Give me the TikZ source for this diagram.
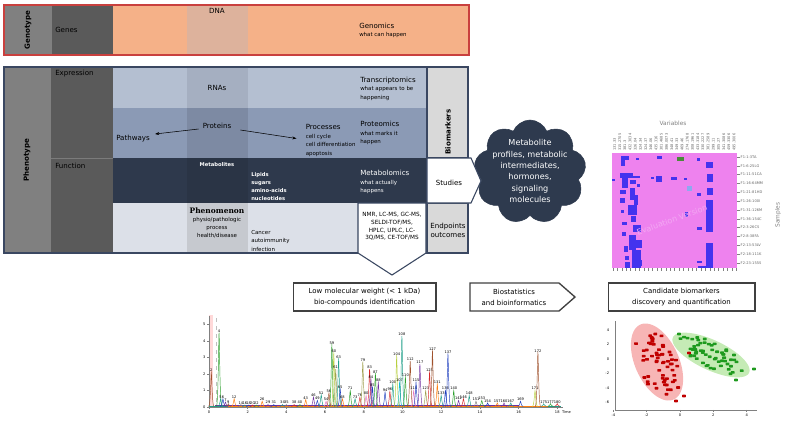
\documentclass[tikz,border=0pt]{standalone}
\usepackage{fontspec}
\setmainfont{DejaVu Sans}
\newfontfamily\serifb{DejaVu Serif}
\usetikzlibrary{shapes.symbols,arrows.meta,calc}
\definecolor{salmon}{HTML}{F5B188}
\definecolor{dnacol}{HTML}{DDB29C}
\definecolor{gA}{HTML}{808080}
\definecolor{gB}{HTML}{5A5A5A}
\definecolor{redb}{HTML}{C9403E}
\definecolor{rA}{HTML}{B4BFD1}
\definecolor{rAm}{HTML}{A5AFC1}
\definecolor{rB}{HTML}{8B9AB5}
\definecolor{rBm}{HTML}{7D8AA3}
\definecolor{rC}{HTML}{2E394C}
\definecolor{rCm}{HTML}{2A3445}
\definecolor{rD}{HTML}{DCE0E8}
\definecolor{rDm}{HTML}{C6C9CF}
\definecolor{navyb}{HTML}{3A4761}
\definecolor{bmc}{HTML}{D9D9D9}
\definecolor{cloudc}{HTML}{2E3A4E}
\definecolor{boxc}{HTML}{404040}
\definecolor{hmpink}{HTML}{EE82EE}
\definecolor{hmblue}{HTML}{4433EE}
\definecolor{hmgreen}{HTML}{4A8A3A}
\definecolor{hmlight}{HTML}{8FA8F0}
\definecolor{dotred}{HTML}{C00000}
\definecolor{dotgreen}{HTML}{1E9A1E}
\definecolor{ellred}{HTML}{F7B5B5}
\definecolor{ellgreen}{HTML}{C5EBB5}
\definecolor{cgr}{HTML}{2CA02C}
\definecolor{cyg}{HTML}{B8D040}
\definecolor{ctl}{HTML}{1F9E89}
\definecolor{col}{HTML}{A0A050}
\definecolor{crd}{HTML}{D62728}
\definecolor{cpu}{HTML}{7030A0}
\definecolor{cbl}{HTML}{1F3FBF}
\definecolor{cbr}{HTML}{A0522D}
\definecolor{cpk}{HTML}{E377C2}
\definecolor{cor}{HTML}{FF7F0E}
\definecolor{ccy}{HTML}{17BECF}
\definecolor{cgy}{HTML}{7F7F7F}
\newcommand\fA{\fontsize{5.3}{6.4}\selectfont}
\newcommand\fB{\fontsize{4.1}{6.4}\selectfont}
\newcommand\fC{\fontsize{3.9}{5.9}\selectfont\bfseries}
\newcommand\fD{\fontsize{6.1}{8.5}\selectfont}
\newcommand\fE{\fontsize{5.2}{8.2}\selectfont}
\newcommand\fN{\fontsize{4.3}{5.8}\selectfont}
\newcommand\fH{\fontsize{2.7}{3}\selectfont}
\newcommand\fT{\fontsize{2.7}{3}\selectfont}
\newcommand\fP{\fontsize{4.1}{5.8}\selectfont}
\begin{document}
\begin{tikzpicture}[x=0.75pt,y=-0.75pt,
  txt/.style={inner sep=0pt,align=left,anchor=north west},
  ctxt/.style={inner sep=0pt,align=center},
  box/.style={draw=boxc,line width=1pt,fill=white,minimum height=21pt,align=center,font=\fE,inner sep=0pt},
  thinarrow/.style={-{Stealth[length=3.2pt,width=2.2pt]},line width=0.4pt},
  hmlab/.style={font=\fH,text=gray!80!black,inner sep=0.3pt},
  dot/.style={rounded corners=0.4pt}]
\useasboundingbox (0,0) rectangle (787,426);

% ---------------- Genotype ----------------
\fill[salmon] (113,5) rectangle (469,55);
\fill[dnacol] (187,5) rectangle (248,55);
\fill[gA] (4,5) rectangle (52,55);
\fill[gB] (52,5) rectangle (113,55);
\draw[redb,line width=1.1pt] (4,5) rectangle (469,55);
\node[rotate=90,font=\fA\bfseries,inner sep=0pt] (genotype) at (28,30) {Genotype};
\node[anchor=west,font=\fA,inner sep=0pt] (genes) at (55,30) {Genes};
\node[font=\fA,inner sep=0pt] (dna) at (217,11) {DNA};
\node[txt,font=\fB] (genomics) at (359,22.5) {{\fA Genomics}\\what can happen};

% ---------------- Phenotype ----------------
\fill[rA] (113,67) rectangle (427,108); \fill[rAm] (187,67) rectangle (248,108);
\fill[rB] (113,108) rectangle (427,158); \fill[rBm] (187,108) rectangle (248,158);
\fill[rC] (113,158) rectangle (427,203); \fill[rCm] (187,158) rectangle (248,203);
\fill[rD] (113,203) rectangle (427,253); \fill[rDm] (187,203) rectangle (248,253);
\fill[gA] (4,67) rectangle (51,253);
\fill[gB] (51,67) rectangle (113,253);
\draw[gB!80!white,line width=0.4pt] (51,158) -- (113,158);
\fill[bmc] (427,67) rectangle (468,158);
\fill[bmc] (427,203) rectangle (468,253);
\draw[navyb,line width=1.1pt] (4,67) rectangle (468,253);
\draw[navyb,line width=0.8pt] (427,67) -- (427,253) (427,158) -- (468,158) (427,203) -- (468,203);

% NMR down arrow
\draw[fill=white,draw=navyb,line width=0.8pt] (358,203) -- (426,203) -- (426,253) -- (392,275) -- (358,253) -- cycle;
\node[ctxt,font=\fN] (nmr) at (392,226.5) {NMR, LC-MS, GC-MS,\\SELDI-TOF/MS,\\HPLC, UPLC, LC-\\3Q/MS, CE-TOF/MS};

% Cloud
\node[cloud,cloud puffs=9,cloud puff arc=135,aspect=1.1,fill=cloudc,draw=cloudc,minimum width=84pt,minimum height=78pt,inner sep=0pt] (cloud) at (530,172) {};
% Studies arrow
\draw[fill=white,draw=navyb,line width=0.8pt] (427,158) -- (471,158) -- (481,181) -- (471,203) -- (427,203) -- cycle;
\node[ctxt,font=\fD,text=white] (cloudtext) at (530,171) {Metabolite\\profiles, metabolic\\intermediates,\\hormones,\\signaling\\molecules};

% Texts
\node[rotate=90,font=\fA\bfseries,inner sep=0pt] (phenotype) at (27,160) {Phenotype};
\node[txt,font=\fA] (expression) at (55,69.5) {Expression};
\node[txt,font=\fA] (function) at (55,163) {Function};
\node[font=\fA,inner sep=0pt] (rnas) at (217,88) {RNAs};
\node[txt,font=\fB] (transcr) at (360,76.5) {{\fA Transcriptomics}\\what appears to be\\happening};
\node[font=\fA,inner sep=0pt] (proteins) at (217,126) {Proteins};
\node[anchor=west,font=\fA,inner sep=0pt] (pathways) at (116,139) {Pathways};
\node[txt,font=\fB] (processes) at (305.5,124.5) {{\fA Processes}\\cell cycle\\cell differentiation\\apoptosis};
\node[txt,font=\fB] (proteomics) at (360,121) {{\fA Proteomics}\\what marks it\\happen};
\node[font=\fC,text=white,inner sep=0pt] (metabolites) at (217,165) {Metabolites};
\node[txt,font=\fC,text=white] (lipids) at (251,172.5) {Lipids\\sugars\\amino-acids\\nucleotides};
\node[txt,font=\fB,text=white] (metabolomics) at (360,170) {{\fA Metabolomics}\\what actually\\happens};
\node[ctxt,font=\fP] (phenomenon) at (217,223) {{\serifb\bfseries\fontsize{5.6}{5.8}\selectfont Phenomenon}\\physio/pathologic\\process\\health/disease};
\node[txt,font=\fB] (cancer) at (251,230) {Cancer\\autoimmunity\\infection};
\node[rotate=90,font=\fA\bfseries,inner sep=0pt] (biomarkers) at (448,132) {Biomarkers};
\node[font=\fA,inner sep=0pt] (studies) at (449,183) {Studies};
\node[ctxt,font=\fontsize{5.3}{6.7}\selectfont] (endpoints) at (448,230.5) {Endpoints\\outcomes};

\draw[thinarrow] ($(proteins.west)+(-4,3)$) -- ($(pathways.east)+(5,-5)$);
\draw[thinarrow] ($(proteins.east)+(9,4)$) -- ($(processes.north west)+(-9,14)$);

% ---------------- Bottom boxes ----------------
\node[box,minimum width=107pt] (lmw) at (364.5,297) {Low molecular weight (< 1 kDa)\\bio-compounds identification};
\draw[draw=boxc,line width=1pt,fill=white] (470,283) -- (559,283) -- (575,297) -- (559,311) -- (470,311) -- cycle;
\node[ctxt,font=\fE] (biostat) at (514,297) {Biostatistics\\and bioinformatics};
\node[box,minimum width=110pt] (cand) at (681.5,297) {Candidate biomarkers\\discovery and quantification};

% ---------------- Heatmap ----------------
\fill[hmpink] (612,153) rectangle (737,268);
\foreach \a/\b/\c/\d in {621/156/629/160, 621/160/625/166, 636/158/639/160, 657/156/662/159, 697/158/700/161,
  706/162/713/168, 707/174/713/182, 707/188/713/195, 706/200/713/232, 706/243/713/268,
  612/179/615/181, 620/173/633/178, 622/178/628/188, 630/180/636/184, 633/176/640/178, 637/184/640/187,
  620/190/626/194, 630/188/635/200, 634/195/638/205, 620/198/625/203, 628/205/637/215, 621/210/624/213,
  622/222/627/225, 631/216/636/222, 633/225/641/232, 622/232/626/236, 629/235/636/250, 624/246/628/252,
  633/240/642/248, 625/256/629/260, 632/250/641/268, 625/262/630/268, 636/260/642/266,
  651/177/654/179, 656/176/662/182, 671/177/677/180, 684/178/687/180, 685/212/688/217,
  697/193/701/196, 697/227/702/230, 697/261/702/263, 698/266/706/268}
  \fill[hmblue] (\a,\b) rectangle (\c,\d);
\fill[hmgreen] (677,157) rectangle (684,161);
\fill[hmlight] (687,186) rectangle (692,191);
\node[rotate=20,font=\fontsize{6}{6}\selectfont,text=hmpink!70!white,inner sep=0pt] (watermark) at (672,220) {Evaluation Version};
\foreach \i in {0,...,28} \draw[gray,line width=0.3pt] (613+\i*4.4,268) -- ++(0,2.5);
\foreach \l [count=\i from 0] in {131.33, 315.2705, 381.3, 432.3034, 326.04, 324.34, 324.37, 346.06, 435.316, 301.4685, 386.0073, 348.41, 349.33, 469.46, 274.1768, 308.1961, 433.3184, 330.2227, 381.2589, 299.11, 305.27, 341.3086, 459.3306, 495.3006}
  \node[hmlab,rotate=90,anchor=west] (col\i) at (614.5+\i*5.2,151.5) {\l};
\node[font=\fontsize{4.4}{5}\selectfont,text=gray,inner sep=0pt] (variables) at (673,123) {Variables};
\foreach \l [count=\j from 0] in {F1-1-3TA, F1-6-25LG, F1-11-51CA, F1-16-64MM, F1-21-81HD, F1-26-100I, F1-31-126M, F1-36-154C, F2-3-26CS, F2-8-38FA, F2-13-53LV, F2-18-111K, F2-23-155S}{
  \draw[gray,line width=0.3pt] (737,157+\j*8.83) -- ++(2.5,0);
  \node[hmlab,anchor=west] (row\j) at (740,157+\j*8.83) {\l};
}
\node[rotate=90,font=\fontsize{4.4}{5}\selectfont,text=gray,inner sep=0pt] (samples) at (778,215) {Samples};

% ---------------- Chromatogram ----------------
\fill[pink!60!white] (209,315) rectangle (213,407);
\draw[gray!50,dashed,line width=0.3pt] (216,318) -- (216,407);
\begin{scope}[shift={(209,407)},x=14.51pt,y=12.375pt]
  \draw[gray,line width=0.4pt] (0,0) -- (0,5.5);
  \draw[gray,line width=0.4pt] (0,0) -- (18.3,0);
  \foreach \v in {0,...,5}{
    \draw[gray,line width=0.3pt] (0,\v) -- (-0.12,\v);
    \node[font=\fT,anchor=east,inner sep=0.5pt] (yl\v) at (-0.14,\v) {\v};
  }
  \foreach \v in {0,2,...,18}{
    \draw[gray,line width=0.3pt] (\v,0) -- (\v,-0.15);
    \node[font=\fT,anchor=north,inner sep=0.5pt] (xl\v) at (\v,-0.2) {\v};
  }
  \node[font=\fT,anchor=north west,inner sep=0.5pt] (timelab) at (18.2,-0.15) {Time};
  \draw[ctl,line width=0.25pt] (0,0.06) -- (18.2,0.06);
  \draw[cpu,line width=0.25pt] (0.3,0.1) -- (16,0.1);
  \draw[cor,line width=0.25pt] (1,0.04) -- (17.5,0.04);
  \foreach \t/\h/\c/\l in {
    0.12/2.1/cbr/2, 0.52/4.5/cgr/4, 0.6/0.5/ctl/5, 0.72/0.5/cbl/6, 0.85/0.3/cpu/7, 1.0/0.2/cbr/9,
    1.3/0.5/cor/12, 1.65/0.15/cgy/14, 1.85/0.12/ctl/16, 2.05/0.12/cbl/18, 2.25/0.12/crd/20, 2.45/0.12/cgr/22,
    2.75/0.35/cor/26, 3.05/0.15/cpu/29, 3.35/0.15/cbl/31, 3.8/0.15/ctl/34, 4.0/0.15/cgy/35, 4.4/0.15/crd/38,
    4.7/0.15/cgr/40, 5.0/0.45/cor/43, 5.4/0.6/cpu/46, 5.6/0.4/cbl/49, 5.8/0.75/ctl/51, 6.05/0.35/cpk/54,
    6.2/0.85/cbr/56, 6.35/3.75/cgr/59, 6.45/3.25/cyg/60, 6.55/2.3/col/61, 6.7/2.9/ctl/63, 6.78/1.1/cbl/65,
    6.9/0.5/cor/68, 7.3/1.0/cgr/71, 7.55/0.5/ctl/73, 7.8/0.6/crd/76, 7.95/2.75/col/79, 8.12/0.7/cpk/80,
    8.3/2.3/crd/83, 8.37/1.7/cpu/84, 8.45/1.2/cbl/85, 8.6/2.0/cgr/87, 8.75/1.5/cpu/88, 9.1/0.9/cbl/94,
    9.35/0.95/crd/96, 9.5/1.4/ctl/100, 9.7/3.1/cyg/104, 9.85/1.5/ccy/107, 9.97/4.3/ctl/108, 10.15/1.8/cgr/110,
    10.4/2.8/cbr/112, 10.58/1.0/cpk/114, 10.7/1.5/cbl/115, 10.9/2.6/cpu/117, 11.2/1.0/col/123, 11.4/2.1/crd/125,
    11.55/3.4/cbr/127, 11.8/1.4/cor/131, 12.0/0.7/ctl/133, 12.22/1.0/cbl/136, 12.35/3.2/cbl/137, 12.65/1.0/cgr/140,
    12.9/0.4/cpu/142, 13.15/0.5/crd/146, 13.45/0.7/ctl/148, 13.8/0.35/cgy/151, 14.1/0.4/cgr/153, 14.4/0.25/cbl/154,
    14.9/0.25/cor/157, 15.25/0.25/cpu/160, 15.6/0.25/ctl/167, 16.1/0.35/cbl/169, 16.85/1.0/cyg/171, 17.0/3.3/cbr/172,
    17.3/0.2/ctl/175, 17.65/0.2/cgr/177, 18.0/0.2/crd/180}{
    \draw[\c,line width=0.35pt] (\t-0.14,0.03) .. controls (\t-0.04,0.03) and (\t-0.02,\h) .. (\t,\h) .. controls (\t+0.02,\h) and (\t+0.04,0.03) .. (\t+0.14,0.03);
    \node[font=\fT,inner sep=0.2pt,anchor=south] (pk\l) at (\t,\h) {\l};
  }
\end{scope}

% ---------------- Scatter plot ----------------
\fill[ellred] plot[domain=0:360,samples=72] ({657+41*cos(\x)*cos(66)-22*sin(\x)*sin(66)},{362+41*cos(\x)*sin(66)+22*sin(\x)*cos(66)}) -- cycle;
\fill[ellgreen] plot[domain=0:360,samples=72] ({711+42*cos(\x)*cos(25)-15*sin(\x)*sin(25)},{355+42*cos(\x)*sin(25)+15*sin(\x)*cos(25)}) -- cycle;
\begin{scope}[shift={(680,359)},x=12.5pt,y=5.4pt]
  \draw[gray,line width=0.4pt] (-3.9,-7.08) -- (-3.9,5.3);
  \draw[gray,line width=0.4pt] (-3.9,-7.08) -- (4.6,-7.08);
  \foreach \v in {-4,-2,0,2,4}{
    \draw[gray,line width=0.3pt] (\v,-7.08) -- (\v,-7.4);
    \node[font=\fT,anchor=north,inner sep=0.5pt] (sx\v) at (\v,-7.5) {\v};
  }
  \foreach \v in {-6,-4,-2,0,2,4}
    \node[font=\fT,anchor=east,inner sep=0.5pt] (sy\v) at (-4.2,\v) {\v};
\end{scope}
\pgfmathsetseed{4242}
\foreach \k in {1,...,62}{
  \pgfmathsetmacro\rsR{0.88*sqrt(rnd)}
  \pgfmathsetmacro\rsT{360*rnd}
  \pgfmathsetmacro\rsX{657+41*\rsR*cos(\rsT)*cos(66)-22*\rsR*sin(\rsT)*sin(66)}
  \pgfmathsetmacro\rsY{362+41*\rsR*cos(\rsT)*sin(66)+22*\rsR*sin(\rsT)*cos(66)}
  \fill[dotred,dot] (\rsX-1.9,\rsY-1.3) rectangle (\rsX+1.9,\rsY+1.3);
}
\foreach \k in {1,...,58}{
  \pgfmathsetmacro\rsR{0.85*sqrt(rnd)}
  \pgfmathsetmacro\rsT{360*rnd}
  \pgfmathsetmacro\rsX{711+42*\rsR*cos(\rsT)*cos(25)-15*\rsR*sin(\rsT)*sin(25)}
  \pgfmathsetmacro\rsY{355+42*\rsR*cos(\rsT)*sin(25)+15*\rsR*sin(\rsT)*cos(25)}
  \fill[dotgreen,dot] (\rsX-1.9,\rsY-1.3) rectangle (\rsX+1.9,\rsY+1.3);
}
\foreach \a/\b in {684/396, 676/401, 689/353}
  \fill[dotred,dot] (\a-1.9,\b-1.3) rectangle (\a+1.9,\b+1.3);
\foreach \a/\b in {679/334, 754/369, 736/380}
  \fill[dotgreen,dot] (\a-1.9,\b-1.3) rectangle (\a+1.9,\b+1.3);
\end{tikzpicture}
\end{document}
